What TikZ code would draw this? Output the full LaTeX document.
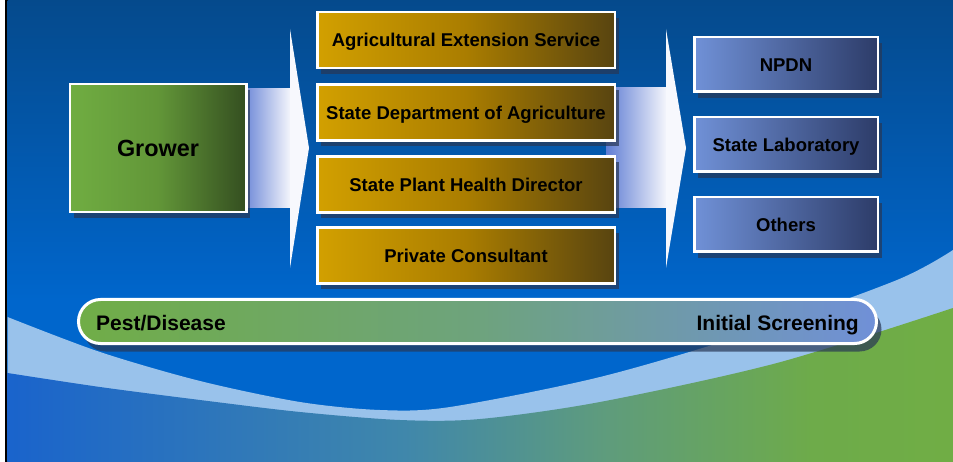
\documentclass[tikz,border=0pt]{standalone}
\usepackage{fontspec}
\setmainfont{Liberation Sans}
\usetikzlibrary{shadows,calc}
\definecolor{bandblue}{RGB}{153,194,235}
\definecolor{shadowc}{RGB}{40,55,85}
\definecolor{grL}{RGB}{112,173,66}
\definecolor{grM}{RGB}{98,150,56}
\definecolor{grR}{RGB}{52,78,32}
\definecolor{brL}{RGB}{210,160,0}
\definecolor{brM}{RGB}{170,125,0}
\definecolor{brR}{RGB}{88,68,16}
\definecolor{blL}{RGB}{112,145,215}
\definecolor{blR}{RGB}{45,60,105}
\definecolor{piG}{RGB}{112,173,71}
\definecolor{piM}{RGB}{110,163,125}
\definecolor{piB}{RGB}{112,144,216}
\definecolor{shL}{RGB}{95,125,212}
\definecolor{shR}{RGB}{246,247,252}
\definecolor{headc}{RGB}{247,248,253}
\pgfdeclareverticalshading{bggrad}{100bp}{rgb(0bp)=(0,0.40,0.80); rgb(25bp)=(0,0.40,0.80); rgb(42.5bp)=(0,0.40,0.80); rgb(75bp)=(0.02,0.29,0.55); rgb(100bp)=(0.02,0.29,0.55)}
\pgfdeclarehorizontalshading{bottomgrad}{100bp}{rgb(0bp)=(0.10,0.39,0.80); rgb(25bp)=(0.10,0.39,0.80); rgb(46bp)=(0.25,0.53,0.67); rgb(56.5bp)=(0.37,0.61,0.49); rgb(67.5bp)=(0.43,0.67,0.29); rgb(75bp)=(0.44,0.68,0.27); rgb(100bp)=(0.44,0.68,0.27)}
\pgfdeclarelayer{back}
\pgfdeclarelayer{arrows}
\pgfsetlayers{back,arrows,main}
\tikzset{
  boxbase/.style={draw=white, line width=2.5pt, inner sep=0pt, text height=13.2pt, text depth=0pt,
    font=\bfseries\fontsize{18.5}{20}\selectfont,
    drop shadow={shadow xshift=4pt, shadow yshift=-6pt, fill=shadowc, opacity=0.7}},
  growbox/.style={boxbase, minimum width=176.5pt, minimum height=128pt,
    left color=grL, right color=grR, middle color=grM,
    font=\bfseries\fontsize{23.4}{26}\selectfont, text height=16.8pt},
  brownbox/.style={boxbase, minimum width=297.5pt, minimum height=56pt,
    left color=brL, right color=brR, middle color=brM},
  bluebox/.style={boxbase, minimum width=183.5pt, minimum height=54.5pt,
    left color=blL, right color=blR},
  pillbox/.style={draw=white, line width=3pt, inner sep=0pt, rounded corners=22pt,
    minimum width=798pt, minimum height=44pt,
    left color=piG, right color=piB, middle color=piM,
    drop shadow={shadow xshift=5pt, shadow yshift=-8pt, fill=shadowc, opacity=0.7}},
  pilltext/.style={font=\bfseries\fontsize{21}{23}\selectfont, inner sep=0pt},
  shaft/.style={left color=shL, right color=shR},
  arrowhead/.style={fill=headc}
}
\begin{document}
\begin{tikzpicture}[x=1pt,y=-1pt]
\useasboundingbox (0,0) rectangle (953,462);
\begin{pgfonlayer}{back}
\fill[white] (0,0) rectangle (953,462);
\fill[black] (5,0) rectangle (7.5,462);
\shade[shading=bggrad] (7.5,0) rectangle (953,462);
\fill[bandblue] plot[smooth] coordinates {(7.5,317) (100,352) (200,381) (300,402) (380,410) (450,407) (600,377) (750,333) (897,280) (953,250)} -- (953,462) -- (7.5,462) -- cycle;
\shade[shading=bottomgrad] plot[smooth] coordinates {(7.5,373) (100,387) (200,400) (300,412) (400,420) (480,419) (600,402) (777,363) (953,308)} -- (953,462) -- (7.5,462) -- cycle;
\end{pgfonlayer}

\node[growbox] (grower) at (158,148) {Grower};

\node[brownbox] (aes) at (466,40) {Agricultural Extension Service};
\node[brownbox] (sda) at (466,112.5) {State Department of Agriculture};
\node[brownbox] (sphd) at (466,184.5) {State Plant Health Director};
\node[brownbox] (pc) at (466,255.5) {Private Consultant};

\node[bluebox] (npdn) at (786,64.5) {NPDN};
\node[bluebox] (lab) at (786,144.5) {State Laboratory};
\node[bluebox] (oth) at (786,224.5) {Others};

\node[pillbox] (pill) at (477.5,321.5) {};
\node[pilltext, anchor=base west] (pest) at (96,330.5) {Pest/Disease};
\node[pilltext, anchor=base east] (screen) at (859,330.5) {Initial Screening};

\begin{pgfonlayer}{arrows}
% arrow from Grower to the advisers
\coordinate (a1s) at ([xshift=-8pt]grower.east |- 0,89);
\coordinate (a1e) at (291,208);
\shade[shaft] (a1s) rectangle (a1e);
\coordinate (a1tip) at ([xshift=-7pt]sda.west |- grower.east);
\fill[arrowhead] (290,29) -- (a1tip) -- (290,268) -- cycle;
% arrow from the advisers to the laboratories
\coordinate (a2s) at ([xshift=-10pt]sda.east |- 0,88);
\coordinate (a2e) at (667,208);
\shade[shaft] (a2s) rectangle (a2e);
\coordinate (a2tip) at ([xshift=-7pt]lab.west |- grower.east);
\fill[arrowhead] (666,29) -- (a2tip) -- (666,268) -- cycle;
\end{pgfonlayer}
\end{tikzpicture}
\end{document}
